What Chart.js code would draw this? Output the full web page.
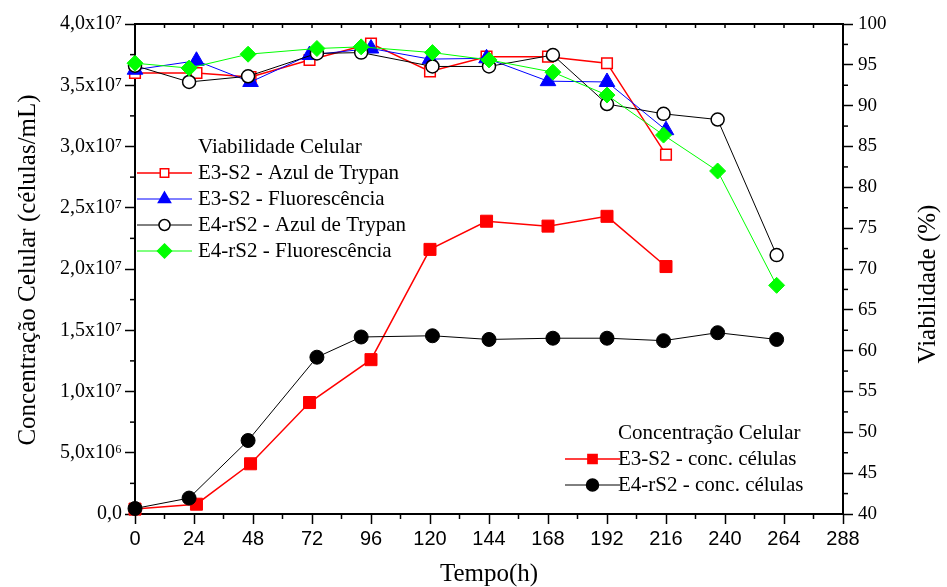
<!DOCTYPE html>
<html>
<head>
<meta charset="utf-8">
<script src="https://cdn.jsdelivr.net/npm/chart.js@4.4.0/dist/chart.umd.min.js"></script>
<style>
    html, body { margin: 0; padding: 0; background: #fff; }
</style>
</head>
<body>
<canvas id="grafico" width="947" height="587"></canvas>
<script>
/* ================================
      DADOS
================================ */
const temposE3 = [0, 25, 47, 71, 96, 120, 143, 168, 192, 216];
const temposE4 = [0, 22, 46, 74, 92, 121, 144, 170, 192, 215, 237, 261];

// concentração celular (células/mL)
const concE3 = [0.4e6, 0.8e6, 4.1e6, 9.1e6, 12.6e6, 21.6e6, 23.9e6, 23.5e6, 24.3e6, 20.2e6];
const concE4 = [0.45e6, 1.3e6, 6.0e6, 12.8e6, 14.45e6, 14.55e6, 14.25e6, 14.35e6, 14.35e6, 14.15e6, 14.8e6, 14.25e6];

// viabilidade (%)
const viabE3Trypan = [94.0, 94.0, 93.5, 95.6, 97.6, 94.2, 96.0, 96.0, 95.2, 84.0];
const viabE3Fluor = [94.4, 95.5, 92.9, 96.2, 97.0, 95.7, 95.8, 93.0, 92.9, 87.0];
const viabE4Trypan = [94.9, 92.9, 93.6, 96.4, 96.5, 94.8, 94.8, 96.2, 90.2, 89.0, 88.3, 71.7];
const viabE4Fluor = [95.2, 94.6, 96.3, 97.0, 97.2, 96.5, 95.6, 94.1, 91.3, 86.4, 82.0, 68.0];

// rótulos dos eixos
const ticksTempo = ["0", "24", "48", "72", "96", "120", "144", "168", "192", "216", "240", "264", "288"];
const ticksConc = ["0,0", "5,0x10⁶", "1,0x10⁷", "1,5x10⁷", "2,0x10⁷", "2,5x10⁷", "3,0x10⁷", "3,5x10⁷", "4,0x10⁷"];
const ticksViab = ["40", "45", "50", "55", "60", "65", "70", "75", "80", "85", "90", "95", "100"];

const pares = (xs, ys) => ys.map((y, i) => ({ x: xs[i], y: y }));

const SERIF = '"Liberation Serif", "Times New Roman", serif';
const NARROW = '"Liberation Sans Narrow", "Liberation Sans", Arial, sans-serif';

/* ================================
      MARCADORES (legenda)
================================ */
function desenharMarcador(ctx, estilo, x, y, r, cor, fundo, lw) {
    ctx.save();
    ctx.beginPath();
    if (estilo === "rect") {
        const s = Math.SQRT1_2 * r;
        ctx.rect(x - s, y - s, 2 * s, 2 * s);
    } else if (estilo === "circle") {
        ctx.arc(x, y, r, 0, Math.PI * 2);
    } else if (estilo === "triangle") {
        for (let k = 0; k < 3; k++) {
            const a = k * 2 * Math.PI / 3;
            const px = x + Math.sin(a) * r, py = y - Math.cos(a) * r;
            k === 0 ? ctx.moveTo(px, py) : ctx.lineTo(px, py);
        }
        ctx.closePath();
    } else if (estilo === "rectRot") {
        ctx.moveTo(x, y - r); ctx.lineTo(x + r, y); ctx.lineTo(x, y + r); ctx.lineTo(x - r, y);
        ctx.closePath();
    }
    ctx.fillStyle = fundo;
    ctx.fill();
    ctx.lineWidth = lw;
    ctx.strokeStyle = cor;
    ctx.stroke();
    ctx.restore();
}

function desenharLegenda(ctx, titulo, x0, yTitulo, itens) {
    ctx.save();
    ctx.font = "21px " + SERIF;
    ctx.fillStyle = "#000";
    ctx.textBaseline = "middle";
    ctx.textAlign = "left";
    ctx.fillText(titulo, x0.texto, yTitulo);
    itens.forEach((it, i) => {
        const y = yTitulo + 26 * (i + 1);
        ctx.beginPath();
        ctx.moveTo(x0.linha1, y);
        ctx.lineTo(x0.linha2, y);
        ctx.strokeStyle = it.cor;
        ctx.lineWidth = it.lw;
        ctx.stroke();
        desenharMarcador(ctx, it.estilo, (x0.linha1 + x0.linha2) / 2, y, it.r, it.cor, it.fundo, 1.5);
        ctx.fillStyle = "#000";
        ctx.fillText(it.texto, x0.texto, y);
    });
    ctx.restore();
}

/* ================================
      PLUGIN — moldura, ticks menores, títulos, legendas
================================ */
const extras = {
    id: "extras",
    afterDraw(chart) {
        const ctx = chart.ctx;
        const a = chart.chartArea;
        const sx = chart.scales.x, sc = chart.scales.yConc, sv = chart.scales.yViab;

        ctx.save();
        ctx.strokeStyle = "#000";

        // borda superior com ticks para dentro
        ctx.lineWidth = 2;
        ctx.beginPath();
        ctx.moveTo(a.left - 1, a.top);
        ctx.lineTo(a.right + 1, a.top);
        ctx.stroke();
        ctx.lineWidth = 1.5;
        for (let t = 12; t < 288; t += 12) {
            const px = sx.getPixelForValue(t);
            ctx.beginPath();
            ctx.moveTo(px, a.top);
            ctx.lineTo(px, a.top + 4);
            ctx.stroke();
        }

        // ticks menores
        for (let t = 12; t < 288; t += 24) {
            const px = sx.getPixelForValue(t);
            ctx.beginPath();
            ctx.moveTo(px, a.bottom);
            ctx.lineTo(px, a.bottom + 5);
            ctx.stroke();
        }
        for (let v = 2.5e6; v < 4e7; v += 5e6) {
            const py = sc.getPixelForValue(v);
            ctx.beginPath();
            ctx.moveTo(a.left, py);
            ctx.lineTo(a.left - 5, py);
            ctx.stroke();
        }
        for (let v = 42.5; v < 100; v += 5) {
            const py = sv.getPixelForValue(v);
            ctx.beginPath();
            ctx.moveTo(a.right, py);
            ctx.lineTo(a.right + 5, py);
            ctx.stroke();
        }

        // títulos dos eixos
        ctx.fillStyle = "#000";
        ctx.font = "25px " + SERIF;
        ctx.textAlign = "center";
        ctx.textBaseline = "middle";
        ctx.fillText("Tempo(h)", 489, 574);

        ctx.save();
        ctx.translate(28, 270);
        ctx.rotate(-Math.PI / 2);
        ctx.fillText("Concentração Celular (células/mL)", 0, 0);
        ctx.restore();

        ctx.save();
        ctx.translate(928, 284);
        ctx.rotate(-Math.PI / 2);
        ctx.fillText("Viabilidade (%)", 0, 0);
        ctx.restore();
        ctx.restore();

        // legendas
        desenharLegenda(ctx, "Viabilidade Celular", { texto: 198, linha1: 137, linha2: 192 }, 147, [
            { texto: "E3-S2 - Azul de Trypan", cor: "#ff0000", fundo: "#fff", estilo: "rect", r: 6, lw: 1.5 },
            { texto: "E3-S2 - Fluorescência", cor: "#0000ff", fundo: "#0000ff", estilo: "triangle", r: 7, lw: 1 },
            { texto: "E4-rS2 - Azul de Trypan", cor: "#000", fundo: "#fff", estilo: "circle", r: 5.5, lw: 1 },
            { texto: "E4-rS2 - Fluorescência", cor: "#00ff00", fundo: "#00ff00", estilo: "rectRot", r: 7, lw: 1 }
        ]);
        desenharLegenda(ctx, "Concentração Celular", { texto: 618, linha1: 565, linha2: 620 }, 433, [
            { texto: "E3-S2 - conc. células", cor: "#ff0000", fundo: "#ff0000", estilo: "rect", r: 6.5, lw: 1.5 },
            { texto: "E4-rS2 - conc. células", cor: "#000", fundo: "#000", estilo: "circle", r: 6, lw: 1 }
        ]);
    }
};

/* ================================
      GRÁFICO
================================ */
const ctx = document.getElementById("grafico");

new Chart(ctx, {
    type: "line",
    data: {
        datasets: [
            {
                label: "E3-S2 - conc. células",
                data: pares(temposE3, concE3),
                yAxisID: "yConc",
                borderColor: "#ff0000",
                borderWidth: 1.5,
                pointStyle: "rect",
                pointRadius: 8.5,
                pointBackgroundColor: "#ff0000",
                pointBorderColor: "#ff0000",
                pointBorderWidth: 1,
                order: 6
            },
            {
                label: "E4-rS2 - conc. células",
                data: pares(temposE4, concE4),
                yAxisID: "yConc",
                borderColor: "#000",
                borderWidth: 1,
                pointStyle: "circle",
                pointRadius: 7,
                pointBackgroundColor: "#000",
                pointBorderColor: "#000",
                pointBorderWidth: 1,
                order: 5
            },
            {
                label: "E3-S2 - Azul de Trypan",
                data: pares(temposE3, viabE3Trypan),
                yAxisID: "yViab",
                borderColor: "#ff0000",
                borderWidth: 1.5,
                pointStyle: "rect",
                pointRadius: 7.5,
                pointBackgroundColor: "#fff",
                pointBorderColor: "#ff0000",
                pointBorderWidth: 1.5,
                order: 4
            },
            {
                label: "E3-S2 - Fluorescência",
                data: pares(temposE3, viabE3Fluor),
                yAxisID: "yViab",
                borderColor: "#0000ff",
                borderWidth: 1,
                pointStyle: "triangle",
                pointRadius: 9,
                pointBackgroundColor: "#0000ff",
                pointBorderColor: "#0000ff",
                pointBorderWidth: 1,
                order: 3
            },
            {
                label: "E4-rS2 - Azul de Trypan",
                data: pares(temposE4, viabE4Trypan),
                yAxisID: "yViab",
                borderColor: "#000",
                borderWidth: 1,
                pointStyle: "circle",
                pointRadius: 6.5,
                pointBackgroundColor: "#fff",
                pointBorderColor: "#000",
                pointBorderWidth: 1.5,
                order: 2
            },
            {
                label: "E4-rS2 - Fluorescência",
                data: pares(temposE4, viabE4Fluor),
                yAxisID: "yViab",
                borderColor: "#00ff00",
                borderWidth: 1,
                pointStyle: "rectRot",
                pointRadius: 8,
                pointBackgroundColor: "#00ff00",
                pointBorderColor: "#00ff00",
                pointBorderWidth: 1,
                order: 1
            }
        ]
    },
    options: {
        responsive: false,
        animation: false,
        clip: false,
        layout: { padding: { top: 24, left: 0, right: 0, bottom: 0 } },
        elements: { line: { tension: 0 } },
        plugins: {
            legend: { display: false },
            tooltip: { enabled: false }
        },
        scales: {
            x: {
                type: "linear",
                position: "bottom",
                min: 0,
                max: 288,
                afterFit: s => { s.height = 73; },
                ticks: {
                    stepSize: 12,
                    autoSkip: false,
                    maxRotation: 0,
                    padding: 3,
                    color: "#000",
                    font: { family: NARROW, size: 20 },
                    callback: v => (v % 24 === 0 ? ticksTempo[v / 24] : "")
                },
                grid: {
                    drawOnChartArea: false,
                    drawTicks: true,
                    tickLength: 10,
                    tickWidth: 1.5,
                    tickColor: c => (c.tick && c.tick.value % 24 === 0 ? "#000" : "rgba(0,0,0,0)")
                },
                border: { color: "#000", width: 2 }
            },
            yConc: {
                type: "linear",
                position: "left",
                min: 0,
                max: 4e7,
                afterFit: s => { s.width = 135; },
                ticks: {
                    stepSize: 2.5e6,
                    autoSkip: false,
                    padding: 3,
                    color: "#000",
                    font: { family: SERIF, size: 20 },
                    callback: v => (Math.round(v / 2.5e6) % 2 === 0 ? ticksConc[Math.round(v / 5e6)] : "")
                },
                grid: {
                    drawOnChartArea: false,
                    drawTicks: true,
                    tickLength: 10,
                    tickWidth: 1.5,
                    tickColor: c => (c.tick && Math.round(c.tick.value / 2.5e6) % 2 === 0 ? "#000" : "rgba(0,0,0,0)")
                },
                border: { color: "#000", width: 2 }
            },
            yViab: {
                type: "linear",
                position: "right",
                min: 40,
                max: 100,
                afterFit: s => { s.width = 104; },
                ticks: {
                    stepSize: 2.5,
                    autoSkip: false,
                    padding: 5,
                    color: "#000",
                    font: { family: SERIF, size: 19 },
                    callback: v => (Math.round(v / 2.5) % 2 === 0 ? ticksViab[Math.round((v - 40) / 5)] : "")
                },
                grid: {
                    drawOnChartArea: false,
                    drawTicks: true,
                    tickLength: 10,
                    tickWidth: 1.5,
                    tickColor: c => (c.tick && Math.round(c.tick.value / 2.5) % 2 === 0 ? "#000" : "rgba(0,0,0,0)")
                },
                border: { color: "#000", width: 2 }
            }
        }
    },
    plugins: [extras]
});
</script>
</body>
</html>
